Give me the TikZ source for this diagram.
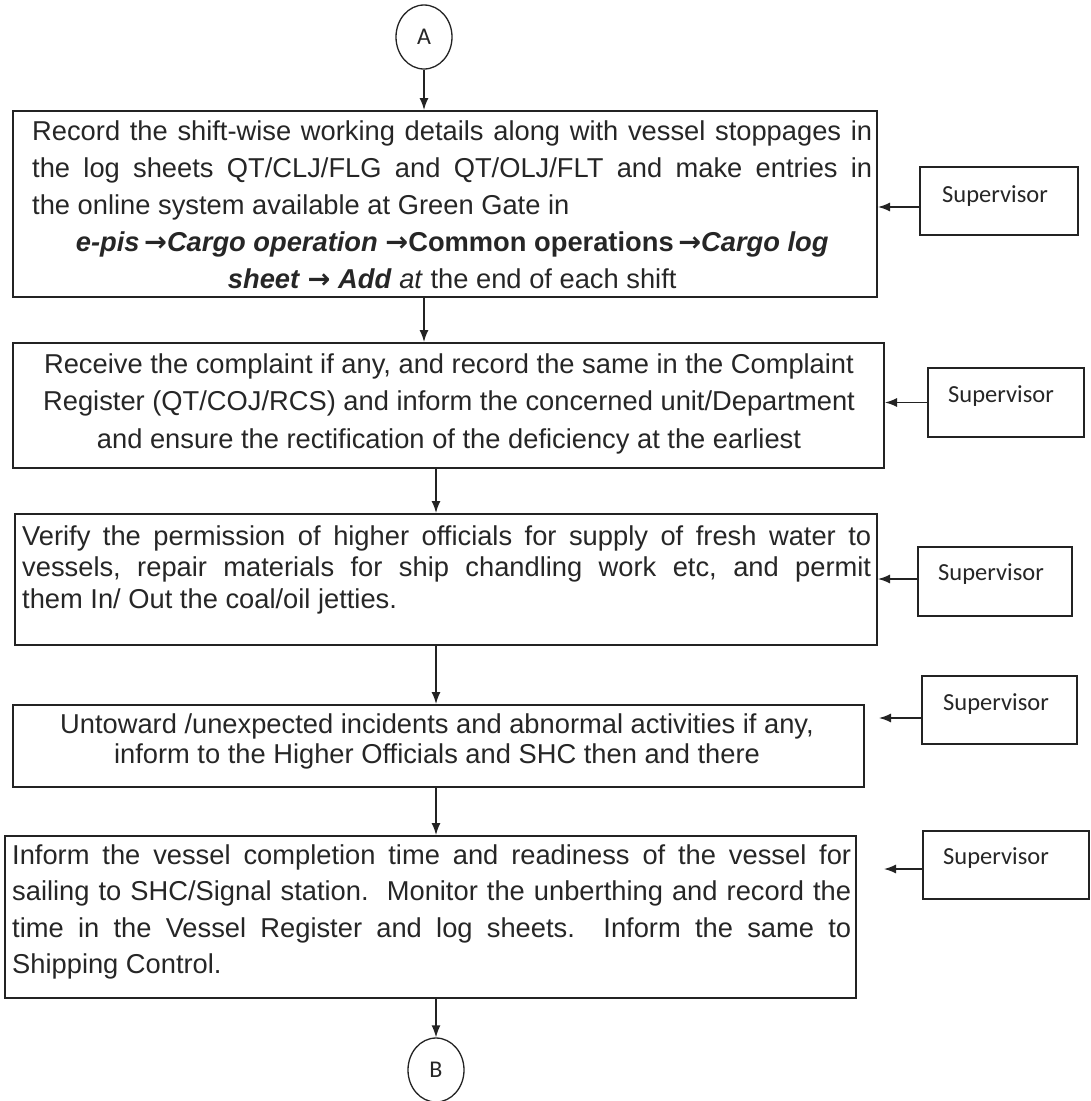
\documentclass[tikz,border=0pt]{standalone}
\usepackage{fontspec}
\setmainfont{Liberation Sans}
\newfontfamily\supfont{Carlito}
\newfontfamily\arrfont{DejaVu Sans}
\newcommand{\ra}{{\arrfont\fontsize{27.3}{27.3}\selectfont →}}
\usetikzlibrary{arrows.meta,shapes.geometric,calc}
\definecolor{linec}{RGB}{35,35,35}
\definecolor{textc}{RGB}{38,38,38}
\setlength{\parindent}{0pt}
\hyphenpenalty=10000
\exhyphenpenalty=10000
\frenchspacing
\begin{document}
\begin{tikzpicture}[x=1pt,y=-1pt,
  mbox/.style={draw=linec, line width=2pt, inner sep=0pt},
  sbox/.style={draw=linec, line width=1.5pt, inner sep=0pt},
  conn/.style={ellipse, draw=linec, line width=1.3pt, minimum width=56pt, minimum height=64pt, inner sep=0pt, text=textc, font=\supfont\fontsize{24}{24}\selectfont},
  arr/.style={draw=linec, line width=1.4pt, -{Latex[length=12pt,width=9pt]}},
  txt/.style={inner sep=0pt, text=textc, align=justify},
  suptxt/.style={inner sep=0pt, anchor=base west, text=textc, font=\supfont\fontsize{24.5}{24.5}\selectfont}]
\useasboundingbox (0,0) rectangle (1091,1101);

% connectors A and B
\node[conn] (A) at (424,37) {A};
\node[conn] (B) at (436,1070) {B};

% main boxes
\node[mbox, minimum width=864pt, minimum height=186pt] (b1) at (445,204) {};
\node[mbox, minimum width=871pt, minimum height=125pt] (b2) at (448.5,405.5) {};
\node[mbox, minimum width=862pt, minimum height=131pt] (b3) at (446,579.5) {};
\node[mbox, minimum width=851pt, minimum height=82pt] (b4) at (438.5,746) {};
\node[mbox, minimum width=851pt, minimum height=162pt] (b5) at (430.5,917) {};

% texts of main boxes
\node[txt, anchor=north west, text width=840pt] (t1) at (32,111) {\fontsize{27.3}{37}\selectfont
\rule{0pt}{29pt}Record the shift-wise working details along with vessel stoppages in\linebreak
the log sheets QT/CLJ/FLG and QT/OLJ/FLT and make entries in\linebreak
the online system available at Green Gate in\par
{\centering\textbf{\textit{e-pis\,\ra Cargo operation} \ra Common operations\,\ra\textit{Cargo log}}\\
\textbf{\textit{sheet} \ra\ \textit{Add}} \textit{at} the end of each shift\par}};

\node[txt, anchor=north, text width=850pt] (t2) at (449,343) {\fontsize{27.3}{37.5}\selectfont
{\centering\rule{0pt}{30pt}Receive the complaint if any, and record the same in the Complaint\\
Register (QT/COJ/RCS) and inform the concerned unit/Department\\
and ensure the rectification of the deficiency at the earliest\par}};

\node[txt, anchor=north west, text width=849pt] (t3) at (22,514) {\fontsize{27.3}{31.5}\selectfont
\rule{0pt}{31pt}Verify the permission of higher officials for supply of fresh water to\linebreak
vessels, repair materials for ship chandling work etc, and permit\linebreak
them In/ Out the coal/oil jetties.\par};

\node[txt, anchor=north, text width=840pt] (t4) at (437,705) {\fontsize{27.3}{30}\selectfont
{\centering\rule{0pt}{28pt}Untoward /unexpected incidents and abnormal activities if any,\\
inform to the Higher Officials and SHC then and there\par}};

\node[txt, anchor=north west, text width=839pt] (t5) at (12,836) {\fontsize{27.3}{36.5}\selectfont
\rule{0pt}{28pt}Inform the vessel completion time and readiness of the vessel for\linebreak
sailing to SHC/Signal station.\ \ Monitor the unberthing and record the\linebreak
time in the Vessel Register and log sheets.\ \ Inform the same to\linebreak
Shipping Control.\par};

% supervisor boxes
\node[sbox, minimum width=158pt, minimum height=68pt] (s1) at (999,201) {};
\node[sbox, minimum width=156pt, minimum height=69pt] (s2) at (1006,402.5) {};
\node[sbox, minimum width=154pt, minimum height=69pt] (s3) at (995,581.5) {};
\node[sbox, minimum width=155pt, minimum height=68pt] (s4) at (999.5,710) {};
\node[sbox, minimum width=166pt, minimum height=68pt] (s5) at (1006,865) {};

\node[suptxt] (u1) at (942,202) {Supervisor};
\node[suptxt] (u2) at (948,402) {Supervisor};
\node[suptxt] (u3) at (938,580) {Supervisor};
\node[suptxt] (u4) at (943,710) {Supervisor};
\node[suptxt] (u5) at (943,864) {Supervisor};

% vertical flow
\draw[arr] (A.south) -- (A.south |- b1.north);
\draw[arr] (A.south |- b1.south) -- (A.south |- b2.north);
\draw[arr] (B.north |- b2.south) -- (B.north |- b3.north);
\draw[arr] (B.north |- b3.south) -- (B.north |- b4.north);
\draw[arr] (B.north |- b4.south) -- (B.north |- b5.north);
\draw[arr] (B.north |- b5.south) -- (B.north);

% supervisor arrows
\coordinate (e4) at (879,718);
\coordinate (e5) at (884,869);
\draw[arr] (s1.west |- 0,207) -- (b1.east |- 0,207);
\draw[arr] (s2.west) -- (b2.east |- s2.west);
\draw[arr] (s3.west |- 0,579) -- (b3.east |- 0,579);
\draw[arr] (s4.west |- e4) -- (e4);
\draw[arr] (s5.west |- e5) -- (e5);
\end{tikzpicture}
\end{document}
